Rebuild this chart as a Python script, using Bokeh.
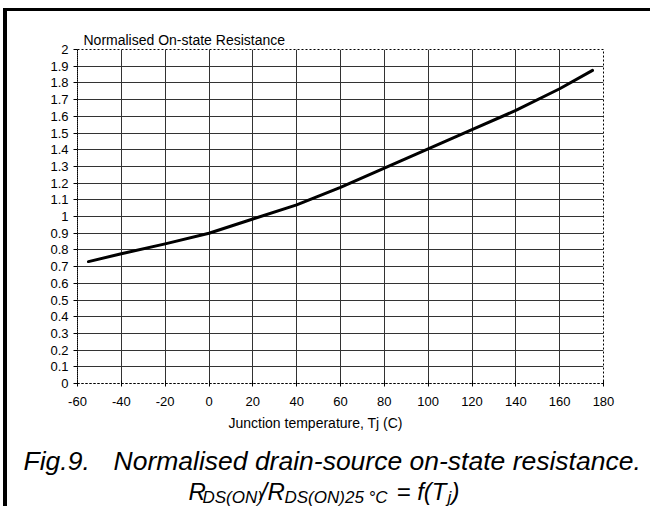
from bokeh.plotting import figure
from bokeh.models import Range1d, FixedTicker, Label, Title
from bokeh.layouts import column
from bokeh.embed import file_html
from bokeh.resources import INLINE

# ---- data ----
temp_c = [-55, -40, -20, 0, 20, 40, 60, 80, 100, 120, 140, 160, 175]
rds_norm = [0.73, 0.777, 0.836, 0.90, 0.985, 1.07, 1.175, 1.29, 1.405, 1.52, 1.635, 1.765, 1.875]

x_ticks = [-60, -40, -20, 0, 20, 40, 60, 80, 100, 120, 140, 160, 180]
x_tick_labels = ["-60", "-40", "-20", "0", "20", "40", "60", "80", "100", "120", "140", "160", "180"]
y_ticks = [0, 0.1, 0.2, 0.3, 0.4, 0.5, 0.6, 0.7, 0.8, 0.9, 1.0,
           1.1, 1.2, 1.3, 1.4, 1.5, 1.6, 1.7, 1.8, 1.9, 2.0]
y_tick_labels = ["0", "0.1", "0.2", "0.3", "0.4", "0.5", "0.6", "0.7", "0.8", "0.9", "1",
                 "1.1", "1.2", "1.3", "1.4", "1.5", "1.6", "1.7", "1.8", "1.9", "2"]

y_title = "Normalised On-state Resistance"
x_title = "Junction temperature, Tj (C)"
fig_no = "Fig.9."
caption = "Normalised drain-source on-state resistance."

FONT = "Liberation Sans"
OX, OY = 7, 11          # page position of the content box (inside the thick frame)
W = 650 - OX            # 643
HA = 401                # chart figure height
HB = 506 - OY - HA      # caption figure height (94)
DY = 7                  # measured vertical correction of the caption strip

# ---------------- chart ----------------
p = figure(width=W, height=HA, x_range=Range1d(-60, 180), y_range=Range1d(0, 2),
           output_backend="svg", toolbar_location=None, frame_align=False,
           min_border_left=77 - OX, min_border_right=W - (603 - OX),
           min_border_top=49 - OY, min_border_bottom=HA - (383 - OY))
p.background_fill_color = "white"
p.border_fill_color = "white"
p.outline_line_color = "black"
p.outline_line_dash = "2 2"
p.outline_line_width = 1

p.title = Title(text=y_title, align="left", offset=6, standoff=3,
                text_font=FONT, text_font_size="14px", text_font_style="normal",
                text_color="black")

xa = p.xaxis[0]
xa.ticker = FixedTicker(ticks=x_ticks)
xa.major_label_overrides = dict(zip(x_ticks, x_tick_labels))
ya = p.yaxis[0]
ya.ticker = FixedTicker(ticks=y_ticks)
ya.major_label_overrides = dict(zip(y_ticks, y_tick_labels))
for ax in (xa, ya):
    ax.axis_line_color = "black"
    ax.axis_line_dash = "2 2"
    ax.axis_line_width = 1
    ax.major_tick_line_color = "black"
    ax.minor_tick_line_color = None
    ax.major_label_text_font = FONT
    ax.major_label_text_font_size = "13px"
    ax.major_label_text_color = "black"
xa.major_tick_in = 3
xa.major_tick_out = 3
xa.major_label_standoff = 10
ya.major_tick_in = 0
ya.major_tick_out = 4
ya.major_label_standoff = 5

p.xgrid.ticker = FixedTicker(ticks=x_ticks[1:-1])
p.ygrid.ticker = FixedTicker(ticks=y_ticks[1:-1])
for g in (p.xgrid, p.ygrid):
    g.grid_line_color = "#333333"
    g.grid_line_width = 1
    g.grid_line_alpha = 1

p.line(temp_c, rds_norm, line_color="black", line_width=3, line_join="round", line_cap="round")

# ---------------- caption strip ----------------
c = figure(width=W, height=HB, x_range=Range1d(0, 1), y_range=Range1d(0, 1),
           output_backend="svg", toolbar_location=None, frame_align=False,
           x_axis_location=None, y_axis_location=None,
           min_border=0, min_border_left=0, min_border_right=0,
           min_border_top=0, min_border_bottom=0)
c.grid.visible = False
c.outline_line_color = None
c.background_fill_color = "white"
c.border_fill_color = "white"


def lab(text, page_x, page_y, size, italic=False, dy=DY):
    # position given in page pixels (text baseline); converted to the strip's screen units
    c.add_layout(Label(x=page_x - OX, y=506 - page_y + dy, x_units="screen", y_units="screen",
                       text=text, text_font=FONT, text_font_size=size,
                       text_font_style="italic" if italic else "normal",
                       text_color="black", text_align="left", text_baseline="alphabetic"))


lab(x_title, 228, 428, "14px", dy=6)
lab(fig_no, 23, 467, "26.5px", True)
lab(caption, 113, 467, "26.5px", True)
# R_DS(ON) / R_DS(ON)25 °C = f(T_j)
lab("R", 188, 498, "24px", True)
lab("DS(ON)", 202, 504, "17px", True)
lab("/", 260, 498, "24px", True)
lab("R", 267, 498, "24px", True)
lab("DS(ON)25 °C", 284, 504, "17px", True)
lab("= f(T", 396, 498, "24px", True)
lab("j", 447, 504, "17px", True)
lab(")", 451, 498, "24px", True)

layout = column(p, c, spacing=0, margin=(8, 0, 0, 3),
                styles={"border-left": "4px solid black", "border-top": "3px solid black"})

open("out.html", "w").write(file_html(layout, INLINE))
